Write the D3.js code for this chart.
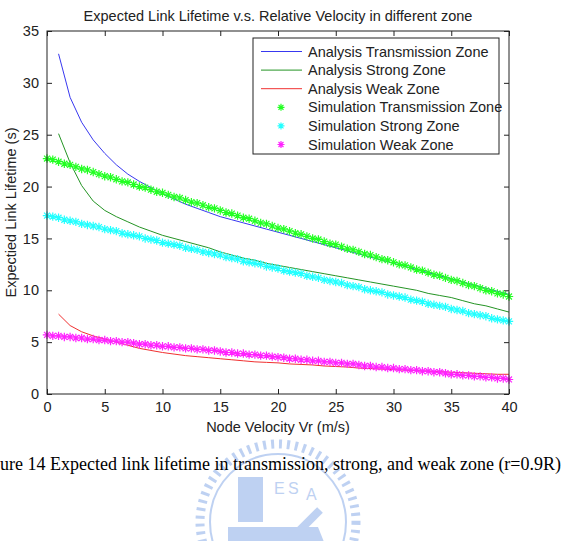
<!DOCTYPE html>
<html><head><meta charset="utf-8">
<script src="https://cdn.jsdelivr.net/npm/d3@7"></script>
<style>
html,body{margin:0;padding:0;background:#fff;}
svg{display:block;}
text{font-family:"Liberation Sans",Arial,Helvetica,sans-serif;fill:#222;}
</style></head>
<body>
<svg id="chart" width="564" height="541"></svg>
<script>
// ---- data ----
const titleText = "Expected Link Lifetime v.s. Relative Velocity in different zone";
const xLabel = "Node Velocity Vr (m/s)";
const yLabel = "Expectied Link Lifetime (s)";
const caption = "ure 14 Expected link lifetime in transmission, strong, and weak zone (r=0.9R)";
const xTicks = [0,5,10,15,20,25,30,35,40];
const yTicks = [0,5,10,15,20,25,30,35];

// analysis curves, x = 1..40
const analysisX = d3.range(1,41);
const analysisTransmission = [32.8,28.6,26.2,24.5,23.2,22.1,21.2,20.5,19.9,19.3,18.8,18.3,17.9,17.5,17.1,16.8,16.5,16.2,15.9,15.6,15.3,15.0,14.7,14.4,14.1,13.8,13.5,13.2,12.9,12.6,12.3,12.0,11.7,11.4,11.1,10.8,10.5,10.2,9.9,9.6];
const analysisStrong = [25.1,22.3,20.1,18.6,17.7,17.1,16.6,16.1,15.7,15.3,15.0,14.7,14.4,14.1,13.7,13.4,13.1,12.9,12.6,12.4,12.2,12.0,11.8,11.6,11.4,11.2,11.0,10.8,10.6,10.4,10.2,10.0,9.7,9.5,9.3,9.0,8.7,8.5,8.2,7.9];
const analysisWeak = [7.7,6.6,6.0,5.6,5.3,5.0,4.7,4.4,4.2,4.0,3.85,3.7,3.6,3.5,3.4,3.3,3.2,3.1,3.05,3.0,2.9,2.85,2.8,2.7,2.65,2.6,2.5,2.45,2.4,2.35,2.3,2.25,2.2,2.15,2.1,2.05,2.0,1.95,1.9,1.9];

// simulation points, x = 0..40 step 0.5
const simX = d3.range(0,40.01,0.5);
const simTransmission = [22.7,22.6,22.4,22.2,22.1,21.9,21.7,21.6,21.4,21.2,21.0,20.9,20.7,20.5,20.4,20.2,20.0,19.9,19.7,19.5,19.4,19.2,19.0,18.9,18.7,18.5,18.4,18.2,18.0,17.9,17.7,17.5,17.4,17.2,17.0,16.9,16.7,16.5,16.4,16.2,16.0,
15.9,15.7,15.5,15.4,15.2,15.0,14.9,14.7,14.5,14.4,14.2,14.0,13.9,13.7,13.5,13.4,13.2,13.0,12.9,12.7,
12.5,12.4,12.2,12.0,11.9,11.7,11.5,11.4,11.2,11.0,10.9,10.7,10.5,10.4,10.2,10.0,9.9,9.7,9.6,9.4];
const simStrong = [17.2,17.1,17.0,16.8,16.7,16.6,16.4,16.3,16.2,16.1,15.9,15.8,15.7,15.5,15.4,15.3,15.2,15.0,14.9,14.8,14.6,14.5,14.4,14.3,14.1,14.0,13.9,13.7,13.6,13.5,13.4,13.2,13.1,13.0,12.8,12.7,12.6,12.5,12.3,12.2,12.1,
11.9,11.8,11.7,11.6,11.4,11.3,11.2,11.0,10.9,10.8,10.7,10.5,10.4,10.3,10.1,10.0,9.9,9.8,9.6,9.5,9.4,9.3,9.1,9.0,8.9,8.7,8.6,8.5,8.4,8.2,8.1,8.0,7.8,7.7,7.6,7.5,7.3,7.2,7.1,7.0];
const simWeak = [5.7,5.6,5.6,5.5,5.5,5.4,5.4,5.3,5.3,5.2,5.2,5.1,5.1,5.0,5.0,4.9,4.8,4.8,4.7,4.7,4.6,4.6,4.5,4.5,4.4,4.4,4.3,4.3,4.2,4.2,4.1,4.0,4.0,3.9,3.9,3.8,3.8,3.7,3.7,3.6,3.55,
3.5,3.4,3.4,3.3,3.3,3.2,3.2,3.1,3.1,3.0,3.0,2.9,2.9,2.8,2.7,2.7,2.6,2.6,2.5,2.5,2.4,2.4,2.3,2.3,2.2,2.2,2.1,2.1,2.0,1.9,1.9,1.8,1.8,1.7,1.7,1.6,1.6,1.5,1.5,1.4];

const lineSeries = [
  {name:"Analysis Transmission Zone", values:analysisTransmission, color:"#3838f0"},
  {name:"Analysis Strong Zone", values:analysisStrong, color:"#249424"},
  {name:"Analysis Weak Zone", values:analysisWeak, color:"#f03030"}
];
const pointSeries = [
  {name:"Simulation Transmission Zone", values:simTransmission, color:"#22ff22"},
  {name:"Simulation Strong Zone", values:simStrong, color:"#22ffff"},
  {name:"Simulation Weak Zone", values:simWeak, color:"#ff22ff"}
];

// ---- layout ----
const svg = d3.select("#chart");
const L=47, R=509, T=31, B=394;
const FS = 14.5;
const x = d3.scaleLinear().domain([0,40]).range([L,R]);
const y = d3.scaleLinear().domain([0,35]).range([B,T]);

// logo watermark (decorative)
const logo = svg.append("g").attr("opacity",0.5);
const lc = [278, 522];
const lcol = "#7fa5e6";
logo.append("circle").attr("cx",lc[0]).attr("cy",lc[1]).attr("r",78)
  .attr("fill","none").attr("stroke",lcol).attr("stroke-width",9).attr("stroke-dasharray","3 5");
logo.append("circle").attr("cx",lc[0]).attr("cy",lc[1]).attr("r",68)
  .attr("fill","none").attr("stroke",lcol).attr("stroke-width",2);
logo.append("path").attr("d",`M${lc[0]-50},${lc[1]+5} L${lc[0]+40},${lc[1]+5} L${lc[0]+50},${lc[1]+30} L${lc[0]-50},${lc[1]+30} Z`).attr("fill",lcol);
logo.append("rect").attr("x",lc[0]-40).attr("y",lc[1]-45).attr("width",25).attr("height",45).attr("fill",lcol);
logo.append("path").attr("d",`M${lc[0]-10},${lc[1]+40} L${lc[0]+42},${lc[1]-12}`).attr("stroke",lcol).attr("stroke-width",8).attr("fill","none");
logo.append("text").attr("x",lc[0]-4).attr("y",lc[1]-28).attr("font-size",16).style("fill",lcol).text("E");
logo.append("text").attr("x",lc[0]+10).attr("y",lc[1]-28).attr("font-size",16).style("fill",lcol).text("S");
logo.append("text").attr("x",lc[0]+28).attr("y",lc[1]-22).attr("font-size",16).style("fill",lcol).text("A");

// title
svg.append("text").attr("x",(L+R)/2).attr("y",21).attr("text-anchor","middle")
  .attr("font-size",FS).text(titleText);

// plot background
svg.append("rect").attr("x",L).attr("y",T).attr("width",R-L).attr("height",B-T).attr("fill","#fff");

// clip
svg.append("clipPath").attr("id","clip").append("rect")
  .attr("x",L).attr("y",T).attr("width",R-L).attr("height",B-T);

// lines
const lineGen = d3.line().x((d,i)=>x(analysisX[i])).y(d=>y(d));
const plot = svg.append("g").attr("clip-path","url(#clip)");
lineSeries.forEach(s=>{
  plot.append("path").datum(s.values).attr("d",lineGen)
    .attr("fill","none").attr("stroke",s.color).attr("stroke-width",1);
});

// star marker
function star(cx,cy,r){
  const d=r*0.707;
  return `M${cx-r},${cy}L${cx+r},${cy}M${cx},${cy-r}L${cx},${cy+r}M${cx-d},${cy-d}L${cx+d},${cy+d}M${cx-d},${cy+d}L${cx+d},${cy-d}`;
}
pointSeries.forEach(s=>{
  const g = svg.append("g");
  g.selectAll("path").data(s.values).join("path")
    .attr("d",(d,i)=>star(x(simX[i]),y(d),4.2))
    .attr("stroke",s.color).attr("stroke-width",1.2).attr("fill","none");
});

// axes: ticks inward on all four sides
const xAxisB = d3.axisBottom(x).tickValues(xTicks).tickSize(-5).tickPadding(8);
const yAxisL = d3.axisLeft(y).tickValues(yTicks).tickSize(-5).tickPadding(8);
const xAxisT = d3.axisTop(x).tickValues(xTicks).tickSize(-5).tickFormat("");
const yAxisR = d3.axisRight(y).tickValues(yTicks).tickSize(-5).tickFormat("");

function style(g){
  g.select(".domain").remove();
  g.selectAll(".tick line").attr("stroke","#222");
  g.selectAll(".tick text").attr("font-size",FS).style("font-family","'Liberation Sans',Arial,sans-serif").attr("fill","#222");
}
svg.append("g").attr("transform",`translate(0,${B})`).call(xAxisB).call(style);
svg.append("g").attr("transform",`translate(${L},0)`).call(yAxisL).call(style);
svg.append("g").attr("transform",`translate(0,${T})`).call(xAxisT).call(style);
svg.append("g").attr("transform",`translate(${R},0)`).call(yAxisR).call(style);
svg.append("rect").attr("x",L).attr("y",T).attr("width",R-L).attr("height",B-T)
  .attr("fill","none").attr("stroke","#222").attr("stroke-width",1);

// axis labels
svg.append("text").attr("x",(L+R)/2).attr("y",432).attr("text-anchor","middle")
  .attr("font-size",FS).text(xLabel);
svg.append("text").attr("transform",`translate(16,${(T+B)/2}) rotate(-90)`)
  .attr("text-anchor","middle").attr("font-size",FS).text(yLabel);

// legend
const lg = svg.append("g");
const lx0=253, ly0=38, lw=246, lh=116;
lg.append("rect").attr("x",lx0).attr("y",ly0).attr("width",lw).attr("height",lh)
  .attr("fill","#fff").attr("stroke","#222").attr("stroke-width",1);
const all = lineSeries.map(s=>({...s,type:"line"})).concat(pointSeries.map(s=>({...s,type:"point"})));
all.forEach((s,i)=>{
  const cy = 51.5 + i*18.6;
  if(s.type==="line"){
    lg.append("line").attr("x1",261).attr("x2",302).attr("y1",cy).attr("y2",cy)
      .attr("stroke",s.color).attr("stroke-width",1);
  } else {
    lg.append("path").attr("d",star(281,cy,3.5)).attr("stroke",s.color).attr("stroke-width",1.2).attr("fill","none");
  }
  lg.append("text").attr("x",308).attr("y",cy+5).attr("font-size",FS).text(s.name);
});

// figure caption
svg.append("text").attr("x",0).attr("y",470).attr("font-size",18)
  .style("font-family","'Liberation Serif','Times New Roman',serif").style("fill","#000").text(caption);
</script>
</body></html>
